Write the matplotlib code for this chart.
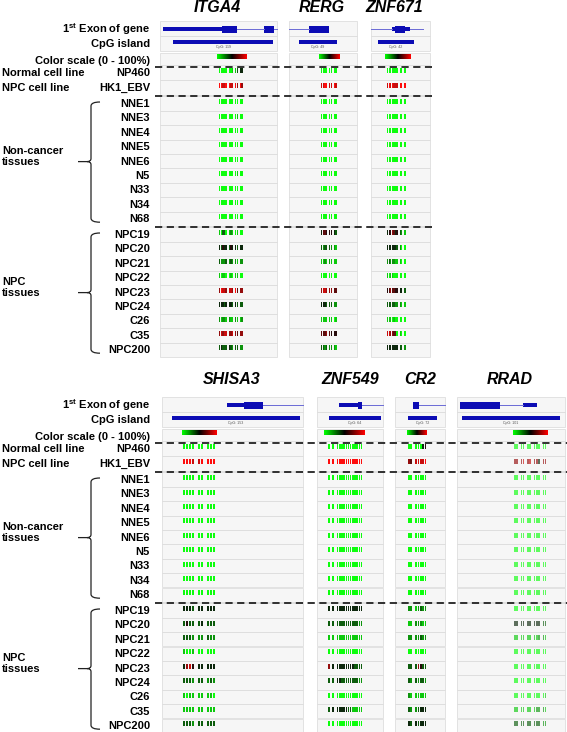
import matplotlib
matplotlib.use("Agg")
import numpy as np
import matplotlib.pyplot as plt
from matplotlib.colors import LinearSegmentedColormap
from matplotlib.patches import Rectangle, PathPatch
from matplotlib.path import Path

plt.rcParams['font.family'] = ['Liberation Sans', 'DejaVu Sans']
plt.rcParams['mathtext.fontset'] = 'custom'
plt.rcParams['mathtext.bf'] = 'Liberation Sans:bold'
plt.rcParams['mathtext.rm'] = 'Liberation Sans'

# ---- data ----
samples = ['NP460', 'HK1_EBV',
           'NNE1', 'NNE3', 'NNE4', 'NNE5', 'NNE6', 'N5', 'N33', 'N34', 'N68',
           'NPC19', 'NPC20', 'NPC21', 'NPC22', 'NPC23', 'NPC24', 'C26', 'C35', 'NPC200']
top_genes = ['ITGA4', 'RERG', 'ZNF671']
bottom_genes = ['SHISA3', 'ZNF549', 'CR2', 'RRAD']
cpg_ids = {'ITGA4': 'CpG: 119', 'RERG': 'CpG: 49', 'ZNF671': 'CpG: 42',
           'SHISA3': 'CpG: 153', 'ZNF549': 'CpG: 64', 'CR2': 'CpG: 72', 'RRAD': 'CpG: 101'}

# CpG site layout inside the plotted window (1 = site, 0 = no site)
site_pattern = {
    'ITGA4': '111110111011011',
    'RERG': '1111011011',
    'ZNF671': '11111110110101',
    'SHISA3': '11110110111',
    'ZNF549': '1010111111111111',
    'CR2': '11011111',
    'RRAD': '110110110111011',
}

# methylation per site, 0 (0%) .. 9 (100%), one string per sample
meth = {
    'ITGA4': ['000000011344', '998899889797',
              '000000000000', '000000000100', '000000000000', '000000000000', '000000000000',
              '000000000100', '000000000000', '000000000000', '000000000000',
              '103301210100', '435443544344', '322232322122', '101100101100', '798878879677',
              '444344434333', '212212112112', '787887787677', '343334323322'],
    'RERG': ['00000000', '88998898',
             '00000000', '00000000', '00000000', '00000000', '00000000',
             '00000000', '00000000', '00000000', '00000000',
             '46655543', '32333221', '11212111', '00000000', '78877766',
             '44433322', '11111101', '66676555', '33232221'],
    'ZNF671': ['0000000000', '8989888999',
               '0000000000', '0000000000', '0000000000', '0000000000', '0000000000',
               '0000000000', '0000000000', '0000000000', '0000000000',
               '4557645321', '4444443200', '2322211100', '1011000000', '5676655443',
               '3333322211', '1110100000', '8877660100', '4444444332'],
    'SHISA3': ['000000000', '999889999',
               '000000000', '000000000', '000000000', '000000000', '000000000',
               '000000000', '000000000', '000000000', '000000000',
               '444344444', '353334333', '333222322', '100100000', '478544444',
               '333233232', '101111110', '111111111', '333233333'],
    'ZNF549': ['00000000000000', '99999999999999',
               '00000000000000', '00000000000000', '00000000000000', '00000000000000',
               '00000000000000', '00000000000000', '00000000000000', '00000000000000',
               '00000000000000',
               '44444444444444', '33333333333322', '11111111111111', '00000000000000',
               '74444444443333', '33443333333322', '00000000000000', '34444443311111',
               '00000000000000'],
    'CR2': ['0000045', '7688889',
            '0000000', '0000000', '0000000', '0000000', '0000000',
            '0000000', '0000000', '0000000', '0000000',
            '2212322', '1122211', '2222322', '0000000', '3337533',
            '3232332', '2111111', '3223444', '4343444'],
    'RRAD': ['00000000000', '77787877477',
             '00000000000', '00000000000', '00000000000', '00000000000', '00000000000',
             '00000000000', '00000000000', '00000000000', '00000000000',
             '00000000000', '44444444433', '11111111221', '00000000000', '00000000000',
             '00000000000', '00000000001', '11111112221', '33333333322'],
}

# ---- layout (figure pixels) ----
tracks = {
    'ITGA4': dict(box=(160, 277), title=217, cpg=(173, 273), scale=(217, 247), data=(219, 243),
                  exon=[(163, 222, 'utr'), (222, 237, 'cds'), (237, 264, 'intron'),
                        (264, 274, 'cds'), (274, 277, 'intron')]),
    'RERG': dict(box=(289, 357), title=322, cpg=(299, 337), scale=(319, 340), data=(321, 337),
                 exon=[(289, 309, 'intron'), (309, 329, 'cds')]),
    'ZNF671': dict(box=(371, 430), title=394, cpg=(378, 414), scale=(385, 411), data=(387, 409),
                   exon=[(371, 392, 'intron'), (392, 395, 'utr'), (395, 405, 'cds'),
                         (405, 410, 'utr'), (410, 423, 'intron')]),
    'SHISA3': dict(box=(162, 303), title=232, cpg=(172, 300), scale=(182, 217), data=(183, 216),
                   exon=[(227, 244, 'utr'), (244, 263, 'cds'), (263, 303, 'intron')]),
    'ZNF549': dict(box=(317, 383), title=350, cpg=(329, 381), scale=(324, 365), data=(328, 363),
                   exon=[(339, 358, 'utr'), (358, 362, 'cds'), (362, 383, 'intron')]),
    'CR2': dict(box=(395, 445), title=420, cpg=(408, 437), scale=(407, 427), data=(408, 427),
                exon=[(413, 419, 'cds'), (419, 445, 'intron')]),
    'RRAD': dict(box=(457, 565), title=510, cpg=(462, 560), scale=(513, 548), data=(514, 547),
                 exon=[(460, 500, 'cds'), (500, 523, 'intron'), (523, 537, 'utr')]),
}
fade = {'RRAD': 0.62}

cmap = LinearSegmentedColormap.from_list('meth', ['#00ff00', '#000000', '#ff0000'])
BLUE = '#0c0cb4'
FS = 8.0

fig = plt.figure(figsize=(5.67, 7.32), dpi=100)
ax = fig.add_axes([0, 0, 1, 1])
ax.set_xlim(0, 567)
ax.set_ylim(732, 0)
ax.axis('off')


def row_box(x0, x1, yc):
    ax.add_patch(Rectangle((x0, yc - 7.7), x1 - x0, 14.4, facecolor='#f6f6f6',
                           edgecolor='#d8d8d8', lw=0.5))


def brace(x, ytop, ybot, ymid):
    verts = [(x + 9, ytop), (x, ytop), (x, ytop + 4), (x, ymid - 3), (x, ymid), (x - 4, ymid),
             (x - 13, ymid),
             (x - 4, ymid), (x, ymid), (x, ymid + 3), (x, ybot - 4), (x, ybot), (x + 9, ybot)]
    codes = [Path.MOVETO, Path.CURVE3, Path.CURVE3, Path.LINETO, Path.CURVE3, Path.CURVE3,
             Path.LINETO,
             Path.MOVETO, Path.CURVE3, Path.CURVE3, Path.LINETO, Path.CURVE3, Path.CURVE3]
    ax.add_patch(PathPatch(Path(verts, codes), fill=False, lw=0.9, edgecolor='#222222'))


def draw_panel(genes, base, title_y, dash_end):
    y_exon, y_cpg, y_scale = base, base + 15, base + 32
    ys = [base + 44, base + 59] + [base + 75 + 14.4 * k for k in range(9)] \
        + [base + 206 + 14.4 * k for k in range(9)]

    # left labels
    ax.text(150, y_exon, r'1$^{\mathbf{st}}$ Exon of gene', ha='right', va='center',
            fontsize=FS, fontweight='bold')
    ax.text(150, y_cpg, 'CpG island', ha='right', va='center', fontsize=FS, fontweight='bold')
    ax.text(150, y_scale, 'Color scale (0 - 100%)', ha='right', va='center',
            fontsize=FS, fontweight='bold')
    for s, y in zip(samples, ys):
        ax.text(150, y, s, ha='right', va='center', fontsize=FS, fontweight='bold')
    ax.text(2, ys[0], 'Normal cell line', ha='left', va='center', fontsize=FS, fontweight='bold')
    ax.text(2, ys[1], 'NPC cell line', ha='left', va='center', fontsize=FS, fontweight='bold')
    nmid = (ys[2] + ys[10]) / 2
    pmid = (ys[11] + ys[19]) / 2
    ax.text(2, nmid - 5, 'Non-cancer\ntissues', ha='left', va='center', fontsize=FS,
            fontweight='bold', linespacing=1.15)
    ax.text(2, pmid - 5, 'NPC\ntissues', ha='left', va='center', fontsize=FS,
            fontweight='bold', linespacing=1.15)
    brace(91, ys[2] - 2, ys[10] + 3, nmid)
    brace(91, ys[11] - 2, ys[19] + 3, pmid)

    for g in genes:
        t = tracks[g]
        bx0, bx1 = t['box']
        ax.text(t['title'], title_y, g, ha='center', va='center', fontsize=11.5,
                fontweight='bold', fontstyle='italic')
        for y in [y_exon, y_cpg, y_scale] + ys:
            row_box(bx0, bx1, y)

        # gene model
        for a, b, kind in t['exon']:
            if kind == 'intron':
                ax.plot([a, b], [y_exon, y_exon], color='#6a6ad6', lw=0.7)
            else:
                h = 7 if kind == 'cds' else 3.4
                ax.add_patch(Rectangle((a, y_exon - h / 2), b - a, h, color=BLUE, lw=0))

        # CpG island
        c0, c1 = t['cpg']
        ax.add_patch(Rectangle((c0, y_cpg - 4.5), c1 - c0, 4, color=BLUE, lw=0))
        ax.text((c0 + c1) / 2, y_cpg + 2.6, cpg_ids[g], ha='center', va='center',
                fontsize=2.6, color='#555555')

        # color scale
        s0, s1 = t['scale']
        grad = np.linspace(0, 1, 64)[None, :]
        ax.imshow(grad, cmap=cmap, aspect='auto', extent=(s0, s1, y_scale - 1.5, y_scale - 6.5),
                  interpolation='bilinear', zorder=3)

        # methylation marks
        d0, d1 = t['data']
        pat = site_pattern[g]
        slot = (d1 - d0) / len(pat)
        pos = [d0 + i * slot for i, ch in enumerate(pat) if ch == '1']
        alpha = fade.get(g, 0.95)
        w = max(slot * 0.72, 1.3)
        dots_x = [d0 + k * slot + w / 2 for k in range(0, len(pat), 3)]
        ax.scatter(dots_x, [y_scale + 1.5] * len(dots_x), s=0.5, marker='s',
                   color='#b0b0b0', lw=0, zorder=3)
        for y, vals in zip(ys, meth[g]):
            for x, v in zip(pos, vals):
                ax.add_patch(Rectangle((x, y - 4.8), w, 5, color=cmap(int(v) / 9),
                                       alpha=alpha, lw=0, zorder=3))
            ax.scatter(dots_x, [y + 3] * len(dots_x), s=0.5, marker='s',
                       color='#b0b0b0', lw=0, zorder=3)

    # dashed separators
    for y in (base + 38, base + 67, base + 198):
        ax.plot([155, dash_end], [y, y], color='#222222', lw=1.3, ls=(0, (4, 2.5)), zorder=4)


draw_panel(top_genes, 29, 8, 432)
draw_panel(bottom_genes, 405, 380, 567)

fig.savefig('out.png', dpi=100)
